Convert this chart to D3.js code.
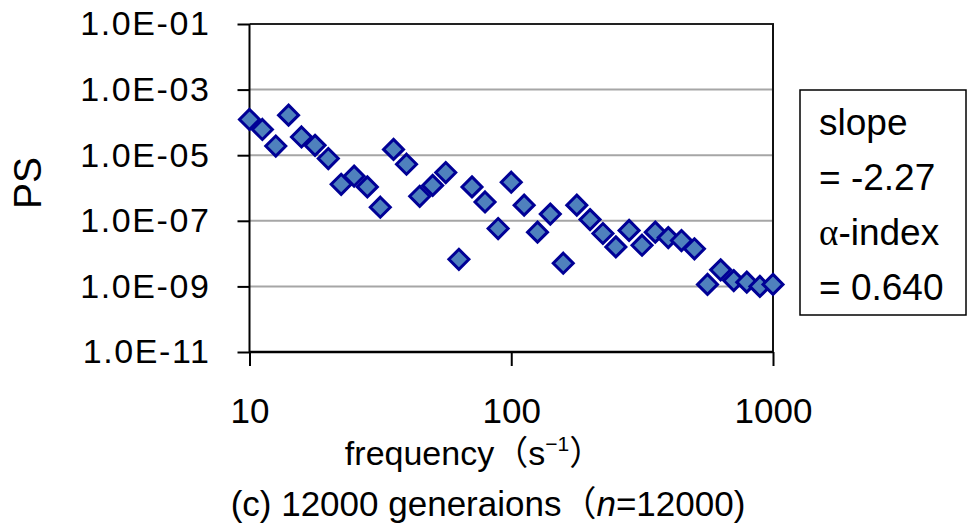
<!DOCTYPE html>
<html>
<head>
<meta charset="utf-8">
<script src="https://cdn.jsdelivr.net/npm/d3@7"></script>
<style>
  html, body { margin: 0; padding: 0; background: #fff; }
  svg { display: block; }
  text { font-family: "Liberation Sans", Arial, "Noto Sans CJK JP", sans-serif; fill: #000; }
</style>
</head>
<body>
<svg id="chart" width="968" height="526"></svg>
<script>
// Power spectrum, 12000 generations
const frequencies = [10, 11.2, 12.6, 14.1, 15.8, 17.8, 20, 22.4, 25.1, 28.2,
  31.6, 35.5, 39.8, 44.7, 50.1, 56.2, 63.1, 70.8, 79.4, 89.1,
  100, 112, 126, 141, 158, 178, 200, 224, 251, 282,
  316, 355, 398, 447, 501, 562, 631, 708, 794, 891, 1000];
const psValues = [1.23e-4, 6.1e-5, 1.9e-5, 1.66e-4, 3.6e-5, 2.0e-5, 7.9e-6, 1.3e-6, 2.3e-6, 1.08e-6,
  2.6e-7, 1.5e-5, 5.3e-6, 5.6e-7, 1.2e-6, 2.96e-6, 6.7e-9, 1.08e-6, 3.75e-7, 5.8e-8,
  1.5e-6, 3.0e-7, 4.5e-8, 1.6e-7, 5.1e-9, 3.0e-7, 1.09e-7, 4.1e-8, 1.6e-8, 5.1e-8,
  1.8e-8, 4.5e-8, 3.07e-8, 2.5e-8, 1.4e-8, 1.15e-9, 3.2e-9, 1.5e-9, 1.35e-9, 1.0e-9, 1.15e-9];
const yTickValues = [1e-1, 1e-3, 1e-5, 1e-7, 1e-9, 1e-11];
const yTickLabels = ["1.0E-01", "1.0E-03", "1.0E-05", "1.0E-07", "1.0E-09", "1.0E-11"];
const xTickValues = [10, 100, 1000];
const xTickLabels = ["10", "100", "1000"];
const annotationLines = ["slope", "= -2.27", "\u03B1-index", "= 0.640"];

const svg = d3.select("#chart");
const plotLeft = 249.5, plotRight = 773, plotTop = 24, plotBottom = 352;

const x = d3.scaleLog().domain([10, 1000]).range([plotLeft, plotRight]);
const y = d3.scaleLog().domain([1e-11, 1e-1]).range([plotBottom, plotTop]);

// horizontal gridlines
svg.append("g").selectAll("line")
  .data(yTickValues.slice(1, -1))
  .join("line")
  .attr("x1", plotLeft).attr("x2", plotRight)
  .attr("y1", d => y(d)).attr("y2", d => y(d))
  .attr("stroke", "#a6a6a6").attr("stroke-width", 2);

// frame top and right
svg.append("line").attr("x1", plotLeft).attr("x2", plotRight + 1).attr("y1", plotTop).attr("y2", plotTop)
  .attr("stroke", "#222").attr("stroke-width", 2);
svg.append("line").attr("x1", plotRight).attr("x2", plotRight).attr("y1", plotTop).attr("y2", plotBottom)
  .attr("stroke", "#111").attr("stroke-width", 2);

// y axis
const yAxis = d3.axisLeft(y).tickValues(yTickValues)
  .tickFormat((d, i) => yTickLabels[i]).tickSize(12).tickPadding(27);
const gy = svg.append("g").attr("transform", `translate(${plotLeft},0)`).call(yAxis);
gy.select(".domain").attr("stroke", "#000").attr("stroke-width", 2).attr("d", `M0,${plotTop}V${plotBottom + 1}`);
gy.selectAll(".tick line").attr("stroke", "#000").attr("stroke-width", 2);
gy.selectAll(".tick text").attr("font-size", 34).attr("letter-spacing", 1.6)
  .attr("font-family", "'Liberation Sans', Arial, sans-serif").attr("fill", "#000");

// x axis
const xAxis = d3.axisBottom(x).tickValues(xTickValues)
  .tickFormat((d, i) => xTickLabels[i]).tickSize(14).tickPadding(32);
const gx = svg.append("g").attr("transform", `translate(0,${plotBottom})`).call(xAxis);
gx.select(".domain").attr("stroke", "#000").attr("stroke-width", 2.5).attr("d", `M${plotLeft},0H${plotRight}`);
gx.selectAll(".tick line").attr("stroke", "#000").attr("stroke-width", 2);
gx.selectAll(".tick text").attr("font-size", 35)
  .attr("font-family", "'Liberation Sans', Arial, sans-serif").attr("fill", "#000");

// data markers
const r = 10;
svg.append("g").selectAll("path")
  .data(frequencies.map((f, i) => [f, psValues[i]]))
  .join("path")
  .attr("d", d => `M${x(d[0])},${y(d[1]) - r}L${x(d[0]) + r},${y(d[1])}L${x(d[0])},${y(d[1]) + r}L${x(d[0]) - r},${y(d[1])}Z`)
  .attr("fill", "#4f81bd").attr("stroke", "#000096").attr("stroke-width", 3)
  .attr("stroke-linejoin", "miter");

// axis titles
svg.append("text").attr("transform", "translate(41,183) rotate(-90)")
  .attr("text-anchor", "middle").attr("font-size", 39).text("PS");

const xt = svg.append("text").attr("x", 474).attr("y", 465)
  .attr("text-anchor", "middle").attr("font-size", 34);
xt.append("tspan").text("frequency\uFF08s");
xt.append("tspan").attr("font-size", 21).attr("dy", -14).text("\u22121");
xt.append("tspan").attr("dy", 14).text("\uFF09");

const tt = svg.append("text").attr("x", 488).attr("y", 516)
  .attr("text-anchor", "middle").attr("font-size", 35);
tt.append("tspan").text("(c) 12000 generaions\uFF08");
tt.append("tspan").attr("font-style", "italic").text("n");
tt.append("tspan").text("=12000)");

// annotation box
svg.append("rect").attr("x", 800).attr("y", 90).attr("width", 166).attr("height", 225)
  .attr("fill", "#fff").attr("stroke", "#000").attr("stroke-width", 1.5);
const notes = svg.append("g").selectAll("text")
  .data(annotationLines)
  .join("text")
  .attr("x", 819).attr("y", (d, i) => 135 + i * 55)
  .attr("font-size", 37);
// the Greek letter is set in a serif face
notes.each(function (d) {
  const t = d3.select(this);
  if (d.startsWith("\u03B1")) {
    t.append("tspan").attr("font-family", "'Liberation Serif', 'DejaVu Serif', serif").text("\u03B1");
    t.append("tspan").text(d.slice(1));
  } else {
    t.text(d);
  }
});
</script>
</body>
</html>
